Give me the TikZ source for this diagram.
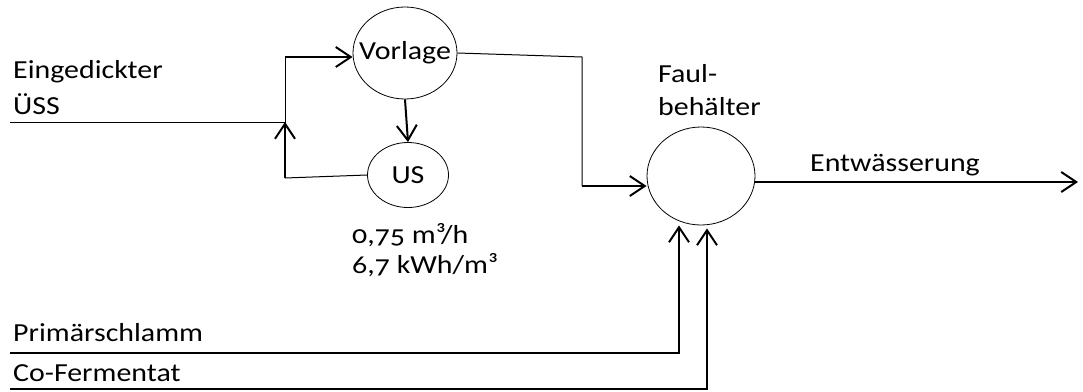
\documentclass[tikz,border=0pt]{standalone}
\usepackage{fontspec}
\setmainfont{Carlito}[Numbers=OldStyle,FakeStretch=1.15]
\usetikzlibrary{arrows.meta,positioning,shapes.geometric}

\begin{document}
\begin{tikzpicture}[x=1pt,y=-1pt,font=\fontsize{26}{34}\selectfont,
 >={Straight Barb[length=15pt,width=20pt]},
 behaelter/.style={ellipse,draw=black,line width=0.8pt,inner sep=0pt},
 rohr/.style={draw=black,line width=1pt},
 strom/.style={->,draw=black,line width=2pt},
 etikett/.style={anchor=base west,inner sep=0pt,align=left}]
\useasboundingbox (0,0) rectangle (1083,391);
% Behaelter (Text als Label, damit die Ellipse ihre Groesse behaelt)
\node[behaelter,minimum width=104pt,minimum height=92pt,label={center:Vorlage}] (vorlage) at (405,53) {};
\node[behaelter,minimum width=81pt,minimum height=65pt,label={center:US}] (us) at (408,175) {};
\node[behaelter,minimum width=108pt,minimum height=98pt] (faul) at (701,176) {};
% Beschriftungen (Anker: Grundlinie der letzten Zeile)
\node[etikett,font=\fontsize{26}{36}\selectfont] (uess) at (13,114) {Eingedickter\\ÜSS};
\node[etikett,font=\fontsize{26}{30}\selectfont] (leistung) at (352,273) {0,75 m³/h\\6,7 kWh/m³};
\node[etikett,font=\fontsize{26}{33}\selectfont] (faultext) at (658,115) {Faul-\\behälter};
\node[etikett] (entw) at (810,171) {Entwässerung};
\node[etikett] (primaer) at (13,341) {Primärschlamm};
\node[etikett] (cofer) at (13,381) {Co-Fermentat};
% Hilfspunkte
\coordinate (ein) at (10,122);
\coordinate (knoten) at (285,122);
\coordinate (oben) at (285,57);
\coordinate (rueck) at (285,178);
\coordinate (ecke) at (582,57);
\coordinate (unten) at (582,186);
\coordinate (aus) at (1078,182);
\coordinate (pein) at (10,353);
\coordinate (cein) at (10,389);
% Leitungen
\draw[rohr] (ein)--(knoten)--(oben);
\draw[strom] (oben)--(oben -| vorlage.west);
\draw[strom] (vorlage.south)--(us.north);
\draw[rohr] (us.west)--(rueck);
\draw[strom] (rueck)--(knoten);
\draw[rohr] (vorlage.east)--(ecke)--(unten);
\draw[strom] (unten)--(unten -| faul.west);
\draw[strom] (faul.east |- aus)--(aus);
\draw[strom] (pein)-|([xshift=-22pt]faul.south);
\draw[strom] (cein)-|([xshift=6pt,yshift=-3pt]faul.south);
\end{tikzpicture}
\end{document}
